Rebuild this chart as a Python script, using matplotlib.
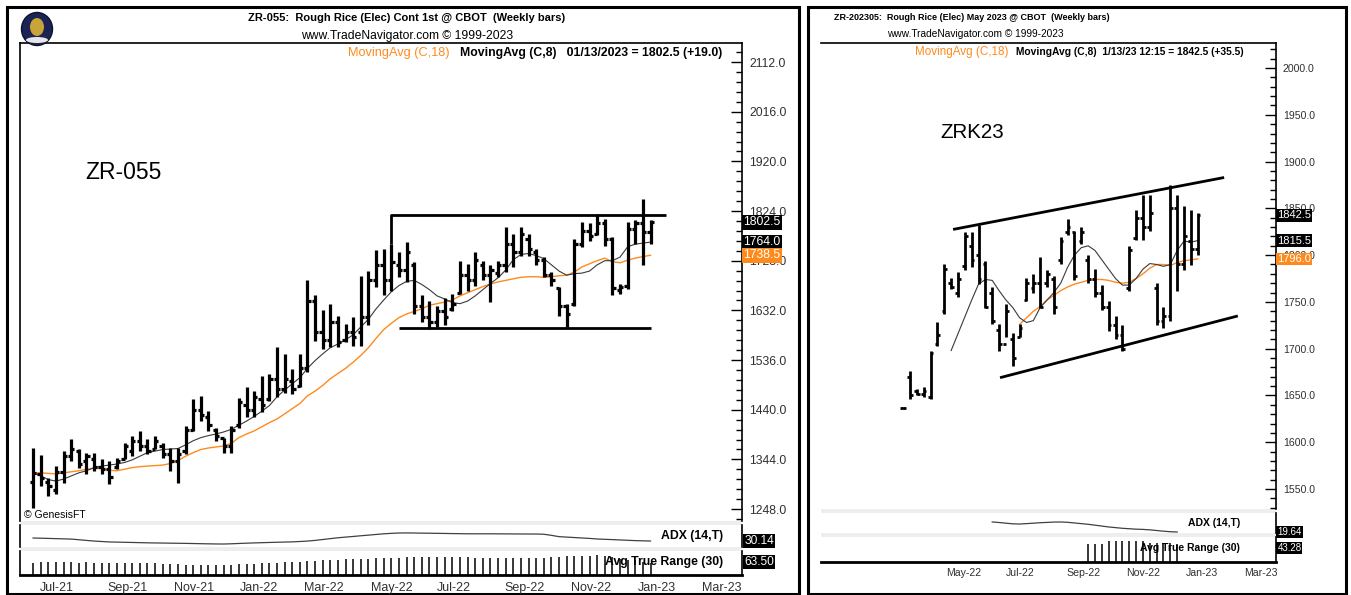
import numpy as np
import pandas as pd
import matplotlib
matplotlib.use("Agg")
import matplotlib.pyplot as plt
import matplotlib.dates as mdates
import matplotlib.transforms as mtrans
from matplotlib.ticker import MultipleLocator, FormatStrFormatter, FixedLocator
from matplotlib.patches import Rectangle, Ellipse

plt.rcParams["font.family"] = ["Liberation Sans", "DejaVu Sans"]

# ---------------- data: left chart (ZR-055 continuous, weekly) ----------------
left_start = "2021-06-25"
left_open = [1300, 1316, 1300, 1285, 1320, 1350, 1360, 1340, 1345, 1330,
             1325, 1330, 1345, 1360, 1380, 1370, 1365, 1370, 1355, 1340,
             1360, 1400, 1440, 1425, 1400, 1385, 1370, 1410, 1450, 1440,
             1460, 1460, 1500, 1480, 1495, 1485, 1520, 1650, 1590, 1575,
             1610, 1575, 1590, 1590, 1620, 1690, 1720, 1690, 1720, 1710,
             1720, 1640, 1620, 1610, 1630, 1635, 1665, 1700, 1690, 1720,
             1700, 1705, 1720, 1760, 1745, 1770, 1745, 1730, 1700, 1675,
             1640, 1645, 1760, 1785, 1780, 1800, 1770, 1672, 1680, 1790,
             1800, 1783.5]
left_high = [1366, 1353, 1308, 1331, 1360, 1384, 1364, 1357, 1357, 1345,
             1340, 1347, 1376, 1389, 1399, 1384, 1390, 1376, 1366, 1366,
             1409, 1461, 1467, 1438, 1405, 1386, 1409, 1463, 1483, 1477,
             1506, 1509, 1561, 1548, 1519, 1548, 1690, 1661, 1632, 1645,
             1622, 1606, 1619, 1699, 1709, 1748, 1751, 1761, 1745, 1764,
             1725, 1661, 1651, 1640, 1655, 1664, 1728, 1722, 1745, 1728,
             1719, 1728, 1793, 1780, 1793, 1780, 1751, 1735, 1706, 1677,
             1644, 1770, 1803, 1800, 1819, 1809, 1774, 1683, 1803, 1807,
             1848, 1806]
left_low = [1250, 1293, 1273, 1277, 1298, 1341, 1327, 1316, 1322, 1316,
            1296, 1326, 1345, 1351, 1360, 1355, 1364, 1347, 1322, 1298,
            1355, 1399, 1418, 1399, 1380, 1357, 1357, 1405, 1425, 1425,
            1435, 1457, 1464, 1473, 1470, 1483, 1512, 1573, 1557, 1561,
            1561, 1570, 1564, 1564, 1603, 1677, 1661, 1670, 1696, 1686,
            1625, 1609, 1596, 1600, 1604, 1631, 1664, 1670, 1680, 1690,
            1648, 1696, 1706, 1716, 1738, 1738, 1719, 1696, 1680, 1622,
            1599, 1641, 1754, 1767, 1777, 1757, 1661, 1664, 1674, 1761,
            1719, 1761]
left_close = [1318, 1308, 1293, 1320, 1350, 1364, 1335, 1350, 1330, 1325,
              1310, 1340, 1370, 1380, 1370, 1360, 1380, 1355, 1340, 1355,
              1400, 1440, 1430, 1410, 1390, 1370, 1400, 1455, 1440, 1465,
              1450, 1500, 1480, 1500, 1480, 1520, 1650, 1590, 1575, 1610,
              1570, 1590, 1580, 1620, 1690, 1720, 1690, 1725, 1710, 1745,
              1640, 1620, 1610, 1630, 1620, 1645, 1700, 1690, 1730, 1700,
              1710, 1720, 1760, 1745, 1780, 1750, 1730, 1700, 1690, 1640,
              1625, 1760, 1785, 1775, 1800, 1770, 1675, 1678, 1790, 1800,
              1783.5, 1802.5]
left_ma18 = [1318, 1318, 1317, 1316, 1318, 1320, 1322, 1325, 1327, 1326,
             1323, 1322, 1325, 1328, 1330, 1331, 1332, 1333, 1336, 1342,
             1350, 1357, 1363, 1366, 1368, 1370, 1375, 1386, 1393, 1399,
             1407, 1415, 1422, 1432, 1442, 1452, 1467, 1476, 1487, 1500,
             1510, 1520, 1532, 1545, 1560, 1578, 1595, 1607, 1618, 1625,
             1630, 1635, 1642, 1645, 1648, 1652, 1660, 1666, 1672, 1678,
             1683, 1687, 1690, 1693, 1696, 1697, 1697, 1696, 1697, 1699,
             1700, 1706, 1716, 1722, 1728, 1733, 1726, 1724, 1729, 1733,
             1736, 1738.5]
left_ma8 = [1318, 1312, 1305, 1302, 1306, 1312, 1318, 1322, 1328, 1331,
            1333, 1335, 1338, 1343, 1350, 1357, 1360, 1363, 1364, 1365,
            1372, 1380, 1386, 1390, 1393, 1397, 1402, 1410, 1418, 1427,
            1437, 1448, 1465, 1478, 1490, 1502, 1520, 1535, 1548, 1560,
            1567, 1575, 1585, 1600, 1615, 1635, 1652, 1668, 1680, 1688,
            1690, 1682, 1672, 1660, 1654, 1647, 1645, 1650, 1660, 1672,
            1684, 1695, 1710, 1730, 1740, 1742, 1738, 1732, 1720, 1708,
            1700, 1703, 1704, 1708, 1720, 1728, 1728, 1735, 1755, 1760,
            1762, 1764]
left_adx = [36.9, 36.5, 36.0, 35.5, 35.0, 34.5, 33.0, 31.5, 30.0, 29.0,
            28.0, 27.6, 27.2, 26.8, 26.4, 26.0, 25.7, 25.5, 25.2, 25.0,
            24.7, 24.4, 24.0, 23.7, 23.4, 23.3, 23.8, 24.5, 25.2, 25.8,
            26.3, 26.8, 27.3, 27.7, 28.2, 29.0, 30.0, 31.5, 33.5, 35.5,
            37.5, 39.0, 40.5, 42.0, 43.5, 45.0, 46.5, 47.5, 48.3, 48.5,
            48.3, 48.0, 47.8, 47.5, 47.3, 47.0, 46.8, 46.5, 46.5, 46.5,
            46.5, 46.4, 46.3, 46.2, 46.1, 46.0, 46.0, 45.5, 43.0, 40.0,
            39.0, 38.0, 37.0, 36.0, 34.7, 34.0, 33.3, 32.5, 31.8, 31.0,
            30.5, 30.14]
left_atr = [66, 67, 67, 68, 67, 67, 66, 67, 66, 66,
            65, 65, 66, 66, 65, 64, 64, 63, 62, 61,
            60, 59, 58, 58, 58, 59, 60, 61, 62, 63,
            64, 65, 66, 67, 68, 70, 71, 72, 74, 75,
            76, 77, 78, 79, 80, 81, 82, 83, 83, 84,
            84, 84, 84, 84, 84, 84, 84, 84, 83, 83,
            83, 83, 83, 82, 82, 82, 82, 83, 84, 86,
            88, 88, 88, 89, 92, 90, 85, 80, 76, 75,
            70, 63.5]
left_box_dates = ["2022-05-20", "2022-05-20", "2023-01-27"]
left_box_prices = [1761, 1815.6, 1815.6]
left_support_dates = ["2022-05-27", "2023-01-13"]
left_support_prices = [1597, 1597]

# ---------------- data: right chart (ZRK23, weekly) ----------------
right_start = "2022-03-18"
right_open = [1637, 1670, 1655, 1652, 1648, 1705, 1740, 1770, 1760, 1788,
              1810, 1800, 1790, 1760, 1720, 1705, 1710, 1712, 1752, 1765,
              1770, 1770, 1775, 1795, 1825, 1825, 1815, 1795, 1775, 1760,
              1745, 1725, 1715, 1765, 1818, 1840, 1830, 1765, 1730, 1735,
              1850, 1790, 1815, 1807]
right_high = [1638, 1676, 1657, 1659, 1698, 1728, 1791, 1776, 1782, 1825,
              1825, 1832, 1794, 1766, 1726, 1748, 1717, 1726, 1776, 1780,
              1798, 1784, 1778, 1819, 1839, 1826, 1830, 1800, 1785, 1768,
              1751, 1735, 1725, 1810, 1848, 1864, 1864, 1770, 1745, 1875,
              1864, 1853, 1848, 1845]
right_low = [1636, 1646, 1651, 1648, 1646, 1703, 1737, 1764, 1755, 1784,
             1787, 1769, 1743, 1726, 1698, 1712, 1682, 1712, 1751, 1759,
             1743, 1766, 1737, 1791, 1821, 1773, 1812, 1770, 1755, 1741,
             1719, 1710, 1697, 1762, 1816, 1816, 1826, 1725, 1722, 1730,
             1762, 1784, 1789, 1800]
right_close = [1637, 1650, 1652, 1655, 1695, 1715, 1785, 1766, 1775, 1820,
               1795, 1775, 1745, 1730, 1705, 1740, 1690, 1722, 1770, 1770,
               1745, 1780, 1745, 1815, 1830, 1778, 1825, 1775, 1760, 1745,
               1725, 1715, 1700, 1805, 1840, 1830, 1845, 1730, 1735, 1850,
               1790, 1820, 1807, 1842.5]
NA = np.nan
right_ma8 = [NA, NA, NA, NA, NA, NA, NA, 1698, 1716, 1734,
             1752, 1769, 1774, 1773, 1762, 1752, 1744, 1733, 1728, 1730,
             1744, 1752, 1760, 1770, 1787, 1800, 1808, 1810, 1805, 1795,
             1785, 1775, 1768, 1768, 1775, 1785, 1791, 1790, 1788, 1790,
             1805, 1815, 1814, 1815.5]
right_ma18 = [NA, NA, NA, NA, NA, NA, NA, NA, NA, NA,
              NA, NA, NA, NA, NA, NA, NA, 1726, 1733, 1740,
              1745, 1752, 1757, 1762, 1766, 1769, 1771, 1773, 1774, 1774,
              1773, 1771, 1770, 1771, 1775, 1780, 1786, 1790, 1790, 1789,
              1792, 1794, 1795, 1796]
right_adx = [NA, NA, NA, NA, NA, NA, NA, NA, NA, NA,
             NA, NA, NA, 42.2, 41.0, 39.5, 38.0, 37.6, 38.5, 39.5,
             40.5, 41.2, 42.0, 42.2, 41.5, 40.0, 38.5, 37.0, 35.0, 33.0,
             31.0, 29.5, 28.0, 27.0, 26.0, 25.5, 24.5, 23.0, 21.5, 20.3,
             19.64, NA, NA, NA]
right_atr = [NA, NA, NA, NA, NA, NA, NA, NA, NA, NA,
             NA, NA, NA, NA, NA, NA, NA, NA, NA, NA,
             NA, NA, NA, NA, NA, NA, NA, 43, 43, 43,
             49, 49, 49, 49, 49, 49, 46, 45, 44, 44,
             43.28, NA, NA, NA]
right_upper_dates = ["2022-05-08", "2023-02-09"]
right_upper_prices = [1827.5, 1883]
right_lower_dates = ["2022-06-25", "2023-02-23"]
right_lower_prices = [1669, 1735]

# ---------------- figure helpers ----------------
W, H = 1351, 595
fig = plt.figure(figsize=(W / 100, H / 100), dpi=100)


def pax(x0, y0, x1, y1):
    return fig.add_axes([x0 / W, 1 - y1 / H, (x1 - x0) / W, (y1 - y0) / H])


def ftext(x, y, s, **kw):
    return fig.text(x / W, 1 - y / H, s, **kw)


def frame_rect(x0, y0, x1, y1, lw=2.0, color="black", fill=None):
    r = Rectangle((x0 / W, 1 - y1 / H), (x1 - x0) / W, (y1 - y0) / H,
                  transform=fig.transFigure, fill=fill is not None,
                  fc=fill if fill else "none", ec=color if fill is None else "none",
                  lw=lw, zorder=0)
    fig.add_artist(r)


ORANGE = "#ff8a1c"
GREYBAND = "#eeeeee"
TXT = "#303030"


def draw_panel(cfg):
    d = mdates.date2num(pd.date_range(cfg["start"], periods=len(cfg["close"]), freq="W-FRI"))
    x0, x1 = cfg["x0"], cfg["x1"]
    ytop, ymain, yadx, ybot = cfg["ys"]
    band = cfg["band"]
    xlim = (mdates.date2num(pd.Timestamp(cfg["xlim"][0])), mdates.date2num(pd.Timestamp(cfg["xlim"][1])))

    frame_rect(x0, ymain, x1, ymain + band, fill=GREYBAND)
    frame_rect(x0, yadx, x1, yadx + band, fill=GREYBAND)

    ax = pax(x0, ytop, x1, ymain)
    adx = pax(x0, ymain + band, x1, yadx)
    atr = pax(x0, yadx + band, x1, ybot)
    for a in (ax, adx, atr):
        a.set_xlim(*xlim)
        a.patch.set_alpha(0)
        for s in a.spines.values():
            s.set_visible(False)
        a.spines["left"].set_visible(cfg["left_spine"])
        a.spines["left"].set_linewidth(1.2)
        a.spines["right"].set_visible(True)
        a.spines["right"].set_linewidth(1.2)
        a.set_xticks([])
        a.set_yticks([])
    ax.spines["top"].set_visible(True)
    ax.spines["top"].set_linewidth(1.2)

    o = np.array(cfg["open"], float); h = np.array(cfg["high"], float)
    l = np.array(cfg["low"], float); c = np.array(cfg["close"], float)
    tk = cfg["tick_days"]
    ax.vlines(d, l, h, color="black", lw=cfg["bar_lw"], zorder=3)
    ax.hlines(o, d - tk, d, color="black", lw=cfg["bar_lw"], zorder=3)
    ax.hlines(c, d, d + tk, color="black", lw=cfg["bar_lw"], zorder=3)
    ax.plot(d, cfg["ma18"], color=ORANGE, lw=1.0, zorder=2)
    ax.plot(d, cfg["ma8"], color="#3a3a3a", lw=0.8, zorder=2)

    for ds, ps in cfg["lines"]:
        ax.plot(mdates.date2num(pd.to_datetime(ds)), ps, color="black", lw=2.0,
                solid_capstyle="butt", zorder=4)

    ax.set_ylim(*cfg["ylim"])
    ax.yaxis.tick_right()
    ax.set_yticks(cfg["yticks"])
    ax.yaxis.set_minor_locator(MultipleLocator(cfg["yminor"]))
    ax.yaxis.set_major_formatter(FormatStrFormatter("%.1f"))
    ax.tick_params(axis="y", which="major", direction="in", length=8, width=1.0,
                   pad=cfg["ypad"], labelsize=cfg["ylab_fs"], colors="black")
    ax.tick_params(axis="y", which="minor", direction="in", length=4, width=1.0)
    for t in ax.get_yticklabels():
        t.set_color(TXT)

    tr = mtrans.blended_transform_factory(ax.transAxes, ax.transData)
    for val, fc in cfg["boxes"]:
        ax.text(1.002, val, f"{val:.1f}", transform=tr, ha="left", va="center",
                fontsize=cfg["box_fs"], color="white", zorder=10, clip_on=False,
                bbox=dict(boxstyle="square,pad=0.12", fc=fc, ec="none"))

    # ADX pane
    adx.plot(d, cfg["adx"], color="#404040", lw=0.9)
    adx.set_ylim(*cfg["adx_lim"])
    adx.text(cfg["ind_x"], 0.5, "ADX (14,T)", transform=adx.transAxes, ha="right", va="center",
             fontsize=cfg["ind_fs"], fontweight="bold", color="black")
    last = cfg["adx"][cfg["adx_last"]]
    adx.text(1.003, last, f"{last:.2f}",
             transform=mtrans.blended_transform_factory(adx.transAxes, adx.transData),
             ha="left", va="center", fontsize=cfg["ibox_fs"], color="white", clip_on=False,
             bbox=dict(boxstyle="square,pad=0.1", fc="black", ec="none"), zorder=10)

    # ATR pane
    av = np.array(cfg["atr"], float)
    ok = ~np.isnan(av)
    atr.vlines(d[ok], cfg["atr_lim"][0], av[ok], color="black", lw=1.1)
    atr.set_ylim(*cfg["atr_lim"])
    atr.text(cfg["ind_x"], 0.55, "Avg True Range (30)", transform=atr.transAxes, ha="right",
             va="center", fontsize=cfg["ind_fs"], fontweight="bold", color="black", zorder=5)
    atr.text(1.003, 0.55, f"{av[ok][-1]:.2f}", transform=atr.transAxes,
             ha="left", va="center", fontsize=cfg["ibox_fs"], color="white", clip_on=False,
             bbox=dict(boxstyle="square,pad=0.1", fc="black", ec="none"), zorder=10)
    atr.spines["bottom"].set_visible(True)
    atr.spines["bottom"].set_linewidth(2.0)
    months = pd.date_range(pd.Timestamp(cfg["start"]), cfg["xlim"][1], freq="MS")
    months = [m for m in months if m.month % 2 == 1]
    atr.xaxis.set_major_locator(FixedLocator(mdates.date2num(months)))
    atr.xaxis.set_major_formatter(mdates.DateFormatter("%b-%y"))
    atr.tick_params(axis="x", length=0, pad=cfg["xpad"], labelsize=cfg["xlab_fs"], labelcolor=TXT)
    for t in atr.get_xticklabels():
        t.set_ha("left")
    return ax


left_cfg = dict(
    start=left_start, open=left_open, high=left_high, low=left_low, close=left_close,
    ma18=left_ma18, ma8=left_ma8, adx=left_adx, atr=left_atr, adx_last=81,
    x0=20, x1=742, ys=(43, 521, 547, 575), band=4, left_spine=True,
    xlim=("2021-06-13", "2023-04-07"), ylim=(1224.9, 2148.8),
    yticks=np.arange(1248, 2113, 96), yminor=19.2, ypad=5,
    tick_days=3.0, bar_lw=2.3, ylab_fs=8.7, box_fs=8.8, ind_fs=8.8, ibox_fs=8.6,
    ind_x=0.974, xlab_fs=9.0, xpad=5,
    adx_lim=(16.5, 66.5), atr_lim=(25, 105),
    boxes=[(1802.5, "black"), (1764.0, "black"), (1738.5, ORANGE)],
    lines=[(left_box_dates, left_box_prices), (left_support_dates, left_support_prices)],
)
right_cfg = dict(
    start=right_start, open=right_open, high=right_high, low=right_low, close=right_close,
    ma18=right_ma18, ma8=right_ma8, adx=right_adx, atr=right_atr, adx_last=40,
    x0=821, x1=1276, ys=(43, 509, 533, 562), band=4, left_spine=False,
    xlim=("2021-12-24", "2023-04-03"), ylim=(1528.6, 2026.8),
    yticks=np.arange(1550, 2001, 50), yminor=10, ypad=5,
    tick_days=2.8, bar_lw=2.0, ylab_fs=7.6, box_fs=8.0, ind_fs=7.5, ibox_fs=7.0,
    ind_x=0.921, xlab_fs=7.6, xpad=4,
    adx_lim=(17.4, 62.4), atr_lim=(0, 59),
    boxes=[(1842.5, "black"), (1815.5, "black"), (1796.0, ORANGE)],
    lines=[(right_upper_dates, right_upper_prices), (right_lower_dates, right_lower_prices)],
)

axL = draw_panel(left_cfg)
axR = draw_panel(right_cfg)

# panel frames
frame_rect(7, 7, 799, 594, lw=2.2)
frame_rect(808, 7, 1346, 594, lw=2.2)

# logo
fig.add_artist(Ellipse((37 / W, 1 - 29 / H), 31 / W, 33 / H, transform=fig.transFigure,
                       fc="#1b2452", ec="#0d1230", lw=1))
fig.add_artist(Ellipse((37 / W, 1 - 27 / H), 14 / W, 18 / H, transform=fig.transFigure,
                       fc="#c9a43a", ec="none"))
fig.add_artist(Ellipse((37 / W, 1 - 40 / H), 22 / W, 6 / H, transform=fig.transFigure,
                       fc="#e8e8e8", ec="none"))

# titles (left)
ftext(407, 18, "ZR-055:  Rough Rice (Elec) Cont 1st @ CBOT  (Weekly bars)", ha="center",
      va="center", fontsize=8.0, fontweight="bold", color="black")
ftext(407, 36, "www.TradeNavigator.com \u00a9 1999-2023", ha="center", va="center",
      fontsize=8.7, color="black")
ftext(450, 53, "MovingAvg (C,18)", ha="right", va="center", fontsize=9.2, color=ORANGE)
ftext(460, 53, "MovingAvg (C,8)   01/13/2023 = 1802.5 (+19.0)", ha="left", va="center",
      fontsize=8.8, fontweight="bold", color="black")
ftext(85, 172, "ZR-055", ha="left", va="center", fontsize=16.5, color="black")
ftext(24, 515, "\u00a9 GenesisFT", ha="left", va="center", fontsize=7.5, color="black")

# titles (right)
ftext(972, 17, "ZR-202305:  Rough Rice (Elec) May 2023 @ CBOT  (Weekly bars)", ha="center",
      va="center", fontsize=6.5, fontweight="bold", color="black")
ftext(975, 34, "www.TradeNavigator.com \u00a9 1999-2023", ha="center", va="center",
      fontsize=7.3, color="black")
ftext(1008, 52, "MovingAvg (C,18)", ha="right", va="center", fontsize=8.4, color=ORANGE)
ftext(1016, 52, "MovingAvg (C,8)  1/13/23 12:15 = 1842.5 (+35.5)", ha="left", va="center",
      fontsize=7.4, fontweight="bold", color="black")
ftext(940, 133, "ZRK23", ha="left", va="center", fontsize=14.8, color="black")

fig.savefig("out.png", dpi=100)
